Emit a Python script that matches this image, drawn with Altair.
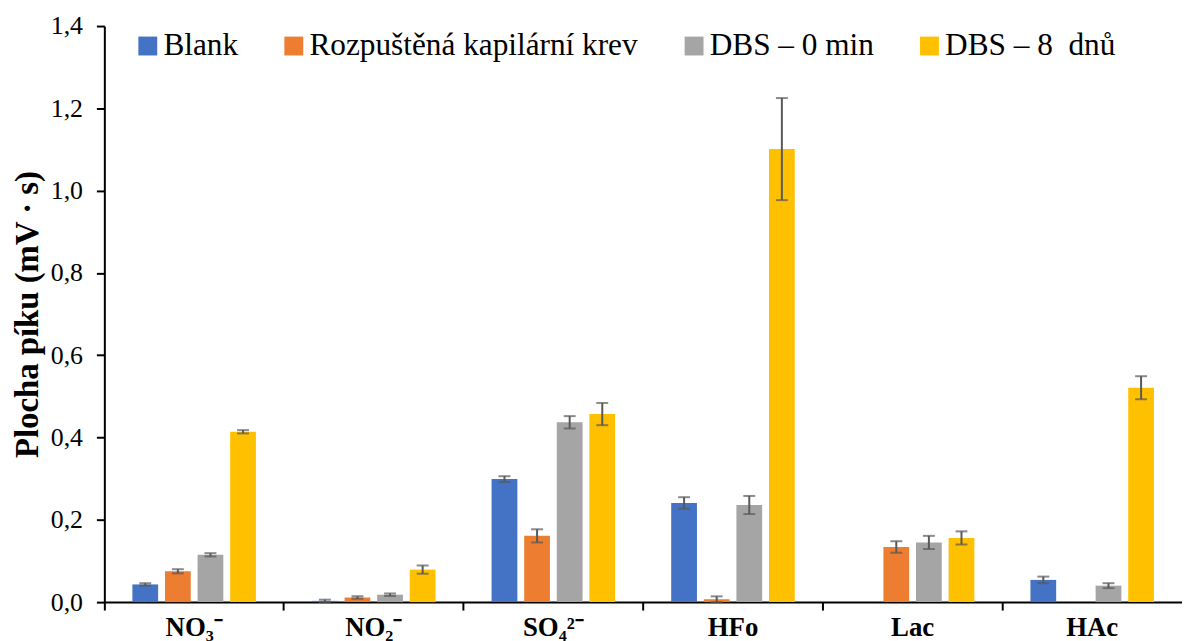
import altair as alt
import pandas as pd

categories = ["NO₃⁻", "NO₂⁻", "SO₄²⁻", "HFo", "Lac", "HAc"]
series = ["Blank", "Rozpuštěná kapilární krev", "DBS – 0 min", "DBS – 8\u00a0 dnů"]
colors = ["#4472C4", "#ED7D31", "#A5A5A5", "#FFC000"]

blank = [0.043, 0.003, 0.299, 0.241, None, 0.054]
blank_err = [0.003, 0.003, 0.007, 0.014, None, 0.008]
krev = [0.075, 0.011, 0.161, 0.007, 0.134, None]
krev_err = [0.005, 0.003, 0.016, 0.007, 0.014, None]
dbs0 = [0.115, 0.018, 0.437, 0.236, 0.145, 0.040]
dbs0_err = [0.004, 0.003, 0.015, 0.022, 0.016, 0.006]
dbs8 = [0.414, 0.079, 0.457, 1.101, 0.156, 0.521]
dbs8_err = [0.004, 0.010, 0.027, 0.124, 0.016, 0.028]

values = [blank, krev, dbs0, dbs8]
errors = [blank_err, krev_err, dbs0_err, dbs8_err]

rows = []
for s, vals, errs in zip(series, values, errors):
    for c, v, e in zip(categories, vals, errs):
        if v is None:
            continue
        rows.append({"cat": c, "series": s, "val": v, "lo": v - e, "hi": v + e})
df = pd.DataFrame(rows)

FONT = "'Liberation Serif', 'Times New Roman', Times, serif"
ERR = "#595959"

x_enc = alt.X(
    "cat:N",
    sort=categories,
    scale=alt.Scale(paddingInner=0, paddingOuter=0),
    axis=alt.Axis(
        title=None,
        labelAngle=0,
        labelFont=FONT,
        labelFontSize=27,
        labelFontWeight="bold",
        labelColor="black",
        labelPadding=5,
        bandPosition=0,
        domainColor="black",
        domainWidth=2,
        tickColor="black",
        tickWidth=2,
        tickSize=8,
    ),
)
xo_enc = alt.XOffset(
    "series:N", sort=series, scale=alt.Scale(paddingInner=0.21, paddingOuter=0.86)
)

y_axis = alt.Axis(
    title="Plocha píku (mV · s)",
    titleFont=FONT,
    titleFontSize=33,
    titleFontWeight="bold",
    titleColor="black",
    titlePadding=6,
    values=[0, 0.2, 0.4, 0.6, 0.8, 1.0, 1.2, 1.4],
    labelExpr="replace(format(datum.value, '.1f'), '.', ',')",
    labelFont=FONT,
    labelFontSize=26,
    labelColor="black",
    labelPadding=14,
    grid=False,
    domainColor="black",
    domainWidth=2,
    tickColor="black",
    tickWidth=2,
    tickSize=8,
)
y_scale = alt.Scale(domain=[0, 1.4], nice=False)

base = alt.Chart(df).encode(x=x_enc, xOffset=xo_enc)

bars = base.mark_bar().encode(
    y=alt.Y("val:Q", scale=y_scale, axis=y_axis),
    color=alt.Color(
        "series:N",
        sort=series,
        scale=alt.Scale(domain=series, range=colors),
        legend=alt.Legend(
            title=None,
            orient="none",
            legendX=28,
            legendY=4,
            direction="horizontal",
            symbolType="square",
            symbolSize=361,
            symbolStrokeWidth=0,
            labelFont=FONT,
            labelFontSize=31.5,
            labelColor="black",
            labelOffset=0,
            labelLimit=0,
            columnPadding=40,
            padding=0,
        ),
    ),
)

rules = base.mark_rule(color=ERR, strokeWidth=2).encode(
    y=alt.Y("lo:Q", scale=y_scale, axis=y_axis), y2="hi:Q"
)
cap_lo = base.mark_tick(color=ERR, thickness=2, size=12).encode(
    y=alt.Y("lo:Q", scale=y_scale, axis=y_axis)
)
cap_hi = base.mark_tick(color=ERR, thickness=2, size=12).encode(
    y=alt.Y("hi:Q", scale=y_scale, axis=y_axis)
)

chart = (
    alt.layer(bars, rules, cap_lo, cap_hi)
    .properties(
        width=1085,
        height=580,
        autosize=alt.AutoSizeParams(type="none"),
        padding={"left": 97, "top": 16, "right": 0, "bottom": 40},
    )
    .configure(font=FONT)
    .configure_view(stroke=None)
    .configure_legend(labelFont=FONT, labelFontSize=31.5, labelLimit=0, labelColor="black")
    .configure_axis(labelFont=FONT, titleFont=FONT)
)

chart.save("out.html", embed_options={"renderer": "svg", "actions": False})
